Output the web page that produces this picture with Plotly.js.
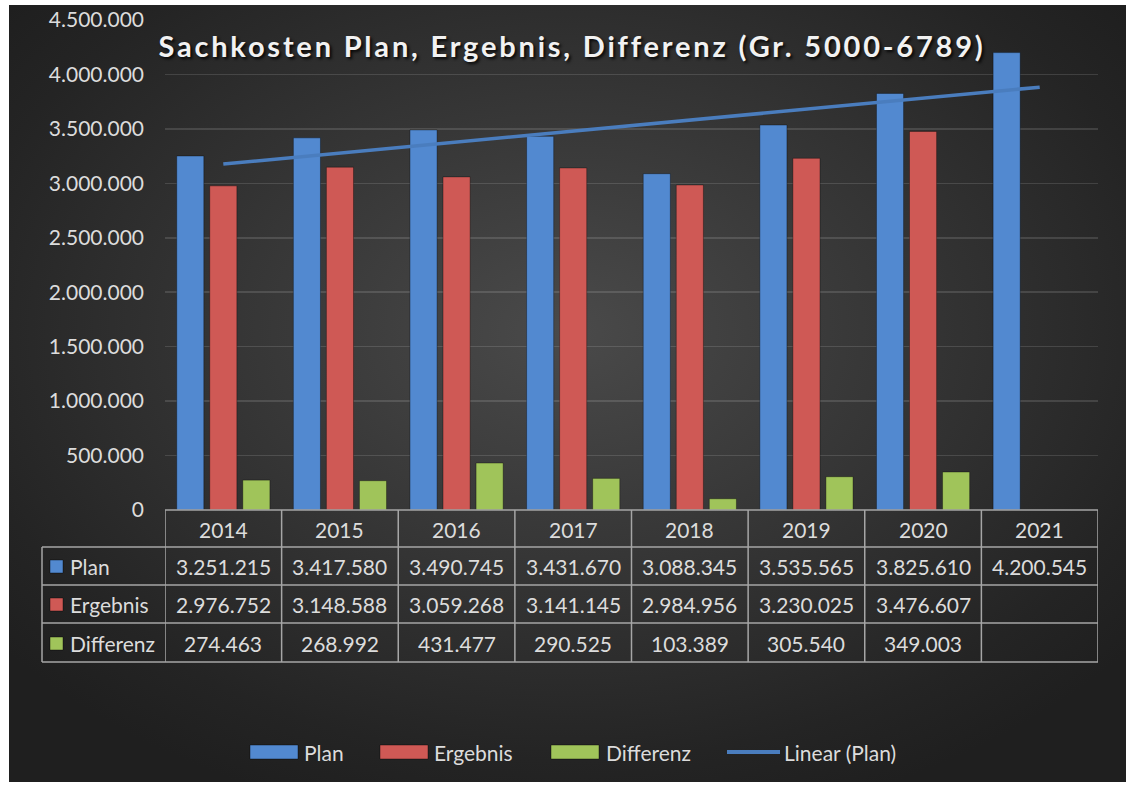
<!DOCTYPE html>
<html>
<head>
<meta charset="utf-8">
<script src="https://cdn.plot.ly/plotly-3.0.1.min.js"></script>
<style>
    html, body { margin: 0; padding: 0; background: #fff; }
    #frame {
        position: absolute; left: 9px; top: 5px; width: 1117px; height: 777px;
        background: radial-gradient(ellipse 65% 65% at 50% 42%, #4a4a4a 0%, #363636 45%, #242424 85%, #1f1f1f 100%);
    }
    #chart { position: absolute; left: 0; top: 0; width: 1126px; height: 785px; }
</style>
</head>
<body>
<div id="frame"></div>
<div id="chart"></div>
<script>
// === Data ===
const years = ["2014", "2015", "2016", "2017", "2018", "2019", "2020", "2021"];
const plan = [3251215, 3417580, 3490745, 3431670, 3088345, 3535565, 3825610, 4200545];
const ergebnis = [2976752, 3148588, 3059268, 3141145, 2984956, 3230025, 3476607, null];
const differenz = [274463, 268992, 431477, 290525, 103389, 305540, 349003, null];
const seriesNames = ["Plan", "Ergebnis", "Differenz"];

// === Styling ===
const colors = ['#5289d0', '#cf5955', '#a0c45a'];
const trendColor = '#4a7dbe';
const textColor = '#dcdcdc';
const gridLine = '#a6a6a6';
const fontFamily = 'Lato, "Open Sans", sans-serif';

// plot area in pixels
const L = 165, R = 1098, T = 20, B = 510;
const px = x => (x - L) / (R - L);
const py = y => (B - y) / (B - T);

// German number format: 3.251.215
function fmt(v) {
    if (v === null || v === undefined) return '';
    return String(v).replace(/\B(?=(\d{3})+(?!\d))/g, '.');
}

// Excel style linear trendline (least squares) over the Plan series
function linearTrend(values) {
    const n = values.length;
    let sx = 0, sy = 0, sxy = 0, sxx = 0;
    values.forEach((v, i) => { sx += i; sy += v; sxy += i * v; sxx += i * i; });
    const slope = (n * sxy - sx * sy) / (n * sxx - sx * sx);
    const icpt = (sy - slope * sx) / n;
    return values.map((v, i) => icpt + slope * i);
}

const allSeries = [plan, ergebnis, differenz];

const traces = allSeries.map((vals, k) => ({
    x: years,
    y: vals,
    name: seriesNames[k],
    type: 'bar',
    marker: { color: colors[k], line: { color: 'rgba(0,0,0,0.35)', width: 1 } },
    hoverinfo: 'y'
}));

traces.push({
    x: years,
    y: linearTrend(plan),
    name: 'Linear (Plan)',
    mode: 'lines',
    line: { color: trendColor, width: 3.5 }
});

// === Data table under the chart ===
const rowY = [529, 566, 604, 643]; // year row + 3 series rows
const shapes = [];
const annotations = [];

const note = (x, xref, y, text, xanchor) => annotations.push({
    x: x, xref: xref, y: py(y), yref: 'paper',
    xanchor: xanchor || 'center', yanchor: 'middle',
    text: text, showarrow: false
});

const hLine = (y, x0) => shapes.push({
    type: 'line', xref: 'paper', yref: 'paper',
    x0: px(x0), x1: px(R), y0: py(y), y1: py(y),
    line: { color: gridLine, width: 1.5 }
});
hLine(510, L);
[547, 585, 623, 662].forEach(y => hLine(y, 42));

for (let i = 0; i <= years.length; i++) {
    shapes.push({
        type: 'line', xref: 'x', yref: 'paper',
        x0: i - 0.5, x1: i - 0.5, y0: py(510), y1: py(662),
        line: { color: gridLine, width: 1.5 }
    });
}
shapes.push({
    type: 'line', xref: 'paper', yref: 'paper',
    x0: px(42), x1: px(42), y0: py(547), y1: py(662),
    line: { color: gridLine, width: 1.5 }
});

years.forEach((yr, i) => {
    note(i, 'x', rowY[0], yr);
    allSeries.forEach((vals, k) => note(i, 'x', rowY[k + 1], fmt(vals[i])));
});

seriesNames.forEach((name, k) => {
    const yc = rowY[k + 1];
    shapes.push({
        type: 'rect', xref: 'paper', yref: 'paper',
        x0: px(50), x1: px(63), y0: py(yc - 6), y1: py(yc + 7),
        fillcolor: colors[k], line: { color: 'rgba(0,0,0,0.4)', width: 1 }
    });
    note(px(68), 'paper', yc, name, 'left');
});

// === Legend at the bottom ===
const legendY = 752;
const legendItems = [
    { sym: 250, txt: 302, label: 'Plan', color: colors[0] },
    { sym: 380, txt: 432, label: 'Ergebnis', color: colors[1] },
    { sym: 551, txt: 604, label: 'Differenz', color: colors[2] }
];
legendItems.forEach(it => {
    shapes.push({
        type: 'rect', xref: 'paper', yref: 'paper',
        x0: px(it.sym), x1: px(it.sym + 48), y0: py(legendY - 7), y1: py(legendY + 7),
        fillcolor: it.color, line: { color: 'rgba(0,0,0,0.4)', width: 1 }
    });
    note(px(it.txt), 'paper', legendY, it.label, 'left');
});
shapes.push({
    type: 'line', xref: 'paper', yref: 'paper',
    x0: px(727), x1: px(780), y0: py(legendY), y1: py(legendY),
    line: { color: trendColor, width: 4 }
});
note(px(782), 'paper', legendY, 'Linear (Plan)', 'left');

const layout = {
    width: 1126,
    height: 785,
    paper_bgcolor: 'rgba(0,0,0,0)',
    plot_bgcolor: 'rgba(0,0,0,0)',
    separators: ',.',
    font: { family: fontFamily, size: 21, color: textColor },
    title: {
        text: 'Sachkosten Plan, Ergebnis, Differenz (Gr. 5000-6789)',
        font: { family: fontFamily, size: 29, weight: 'bold', color: '#f2f2f2', shadow: '2px 2px 3px rgba(0,0,0,0.85)' },
        xref: 'container', yref: 'container',
        x: 0.508, xanchor: 'center',
        y: 1 - 47 / 785, yanchor: 'middle'
    },
    margin: { l: L, r: 1126 - R, t: T, b: 785 - B, pad: 0 },
    showlegend: false,
    barmode: 'group',
    bargap: 0.15,
    bargroupgap: 0.18,
    xaxis: {
        type: 'category',
        range: [-0.5, 7.5],
        showticklabels: false,
        showgrid: false,
        zeroline: false,
        showline: false,
        ticks: ''
    },
    yaxis: {
        range: [0, 4500000],
        dtick: 500000,
        tickformat: ',d',
        showgrid: true,
        gridcolor: 'rgba(255,255,255,0.13)',
        gridwidth: 1.5,
        zeroline: false,
        showline: false,
        ticks: '',
        ticklabelstandoff: 20,
        tickfont: { family: fontFamily, size: 21, color: textColor }
    },
    shapes: shapes,
    annotations: annotations
};

Plotly.newPlot('chart', traces, layout, { displayModeBar: false, staticPlot: true }).then(() => {
    // Excel draws the title with wider character spacing
    const t = document.querySelector('#chart .gtitle');
    if (t) t.style.letterSpacing = '2.8px';
});
</script>
</body>
</html>
